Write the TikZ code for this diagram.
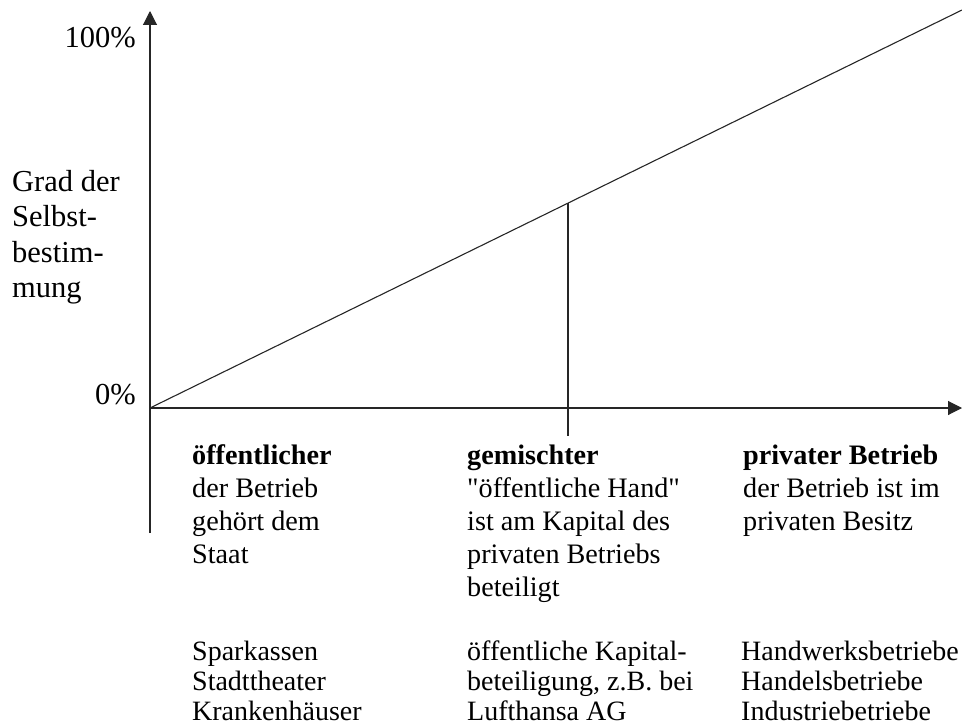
\documentclass[tikz,border=0pt]{standalone}
\usepackage{fontspec}
\setmainfont{Liberation Serif}[Ligatures=TeXOff]
\usetikzlibrary{arrows.meta,calc}
\begin{document}
\begin{tikzpicture}[x=1pt,y=-1pt,
  axis/.style={line width=1.1pt,draw=black!85},
  tip/.style={-{Triangle[length=14pt,width=14pt]}},
  lbl/.style={inner sep=0pt,anchor=base west,font=\fontsize{28.2}{33}\selectfont},
  ex/.style={lbl,font=\fontsize{28}{30.2}\selectfont},
  pct/.style={inner sep=0pt,anchor=base east,font=\fontsize{30.5}{35}\selectfont}]
  \useasboundingbox (0,0) rectangle (962,725);

  % axes
  \coordinate (o) at (150,408);
  \coordinate (ytop) at (150,11);
  \coordinate (ybot) at (150,533);
  \coordinate (xend) at (962,408);
  \coordinate (d) at (962,10);
  \draw[axis,tip] (ybot) -- (ytop);
  \draw[axis,tip] (o) -- (xend);

  % degree of self-determination line
  \draw[axis] (o) -- (d);
  \coordinate (m) at ($(o)!0.5148!(d)$);
  \coordinate (mb) at (m |- 0,436);
  \draw[axis] (m) -- (mb);

  % axis labels
  \node[pct] (p100) at (136,48) {100\%};
  \node[pct] (p0) at (136,404) {0\%};
  \node[lbl,font=\fontsize{30.5}{35.5}\selectfont] (grad) at (12,191)
    {\begin{tabular}[t]{@{}l@{}}Grad der\\Selbst-\\bestim-\\mung\end{tabular}};

  % categories
  \node[lbl] (oeff) at (192,464)
    {\begin{tabular}[t]{@{}l@{}}\textbf{öffentlicher}\\der Betrieb\\gehört dem\\Staat\end{tabular}};
  \node[lbl] (gem) at (467,464)
    {\begin{tabular}[t]{@{}l@{}}\textbf{gemischter}\\"öffentliche Hand"\\ist am Kapital des\\privaten Betriebs\\beteiligt\end{tabular}};
  \node[lbl] (priv) at (743,464)
    {\begin{tabular}[t]{@{}l@{}}\textbf{privater Betrieb}\\der Betrieb ist im\\privaten Besitz\end{tabular}};

  % examples
  \node[ex] (ex1) at (192,660)
    {\begin{tabular}[t]{@{}l@{}}Sparkassen\\Stadttheater\\Krankenhäuser\end{tabular}};
  \node[ex] (ex2) at (467,660)
    {\begin{tabular}[t]{@{}l@{}}öffentliche Kapital-\\beteiligung, z.B. bei\\Lufthansa AG\end{tabular}};
  \node[ex] (ex3) at (741,660)
    {\begin{tabular}[t]{@{}l@{}}Handwerksbetriebe\\Handelsbetriebe\\Industriebetriebe\end{tabular}};
\end{tikzpicture}
\end{document}
